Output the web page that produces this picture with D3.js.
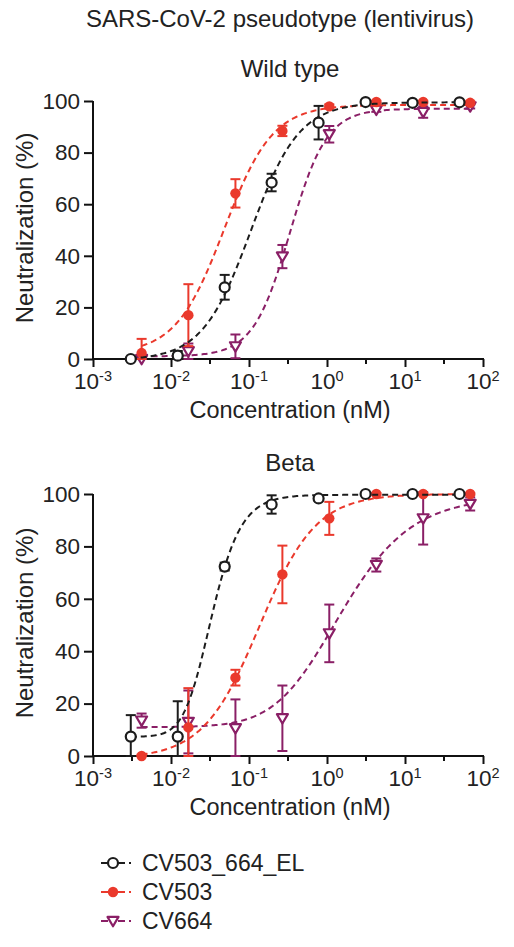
<!DOCTYPE html>
<html>
<head>
<meta charset="utf-8">
<title>SARS-CoV-2 pseudotype neutralization</title>
<script src="https://d3js.org/d3.v7.min.js"></script>
<style>
  body { margin: 0; background: #fff; }
  svg { display: block; font-family: "Liberation Sans", Arial, sans-serif; }
  .axis path, .axis line { stroke: #111; stroke-width: 2; }
  .axis text { font-size: 22.5px; fill: #222; }
</style>
</head>
<body>
<div id="chart"></div>
<script>
// ******* Data *******
const seriesNames = ["CV503_664_EL", "CV503", "CV664"];
const seriesColors = ["#1c1c1c", "#ea392c", "#8a1f66"];

// concentrations (nM)
const concEL = [0.00305, 0.0122, 0.0488, 0.195, 0.78, 3.125, 12.5, 50];
const concMono = [0.0042, 0.0167, 0.067, 0.268, 1.07, 4.29, 17.1, 68.5];

// Wild type: mean neutralization (%) and error
const wtEL = [0, 1.3, 27.8, 68.4, 91.6, 99.6, 99.3, 99.5];
const wtELErr = [0.5, 1.8, 4.8, 3.4, 6.5, 0.5, 0.8, 0.5];
const wt503 = [2.3, 17, 64.2, 88.4, 97.9, 99.6, 99.6, 99.3];
const wt503Err = [5.5, 12, 5.5, 2, 0.8, 0.5, 0.5, 0.6];
const wt664 = [0, 3, 4.9, 39.7, 87.1, 96.6, 95.7, 97.9];
const wt664Err = [0.8, 3, 4.6, 4.5, 3.2, 0.8, 2.2, 0.8];

// Beta: mean neutralization (%) and error
const betaEL = [7.4, 7.4, 72.3, 96, 98.3, 100, 100, 100];
const betaELErr = [8.2, 13.5, 1.5, 3.5, 0.8, 0.4, 0.4, 0.4];
const beta503 = [0, 10.9, 29.9, 69.3, 90.7, 100, 100, 100];
const beta503Err = [0.5, 15, 3, 11, 6.3, 0.4, 0.4, 0.4];
const beta664 = [13.5, 13, 10.6, 14.4, 46.8, 72.9, 90.7, 96.2];
const beta664Err = [2.7, 12, 11, 12.5, 11, 2.5, 10, 2.5];

// fitted logistic curves: [bottom, top, EC, hill, asymmetry]
const fitWT = [[-0.5, 99.5, 0.105, 1.4, 1], [2, 98.5, 0.048, 1.4, 1], [1, 97, 0.335, 1.84, 1]];
const fitBeta = [[7.3, 99.7, 0.0215, 2, 2], [-1, 100, 0.136, 1.2, 1], [11, 99, 0.542, 0.84, 2]];

const xTickPowers = [-3, -2, -1, 0, 1, 2];
const yTicks = [0, 20, 40, 60, 80, 100];

// ******* Layout *******
const width = 514, height = 947;
const left = 93, right = 483;
const panels = [
  {title: "Wild type", titleY: 77, yTop: 101, yBottom: 359,
   values: [wtEL, wt503, wt664], errs: [wtELErr, wt503Err, wt664Err], fits: fitWT},
  {title: "Beta", titleY: 471, yTop: 494, yBottom: 756,
   values: [betaEL, beta503, beta664], errs: [betaELErr, beta503Err, beta664Err], fits: fitBeta}
];
const concs = [concEL, concMono, concMono];
const drawOrder = [2, 1, 0];   // purple under red under black

const svg = d3.select("#chart").append("svg")
    .attr("width", width)
    .attr("height", height);

svg.append("text")
    .attr("x", 280).attr("y", 27)
    .attr("text-anchor", "middle")
    .attr("font-size", 24)
    .attr("fill", "#222")
    .text("SARS-CoV-2 pseudotype (lentivirus)");

const x = d3.scaleLog().domain([1e-3, 1e2]).range([left, right]);

function logistic(p, c) {
  return p[0] + (p[1] - p[0]) / Math.pow(1 + Math.pow(p[2] / c, p[3]), p[4]);
}

function drawMarker(g, i, cx, cy) {
  const col = seriesColors[i];
  if (i === 0) {
    g.append("circle").attr("cx", cx).attr("cy", cy).attr("r", 5)
      .attr("fill", "#fff").attr("stroke", col).attr("stroke-width", 2.2);
  } else if (i === 1) {
    g.append("circle").attr("cx", cx).attr("cy", cy).attr("r", 5.2)
      .attr("fill", col);
  } else {
    const s = 5.5;
    g.append("path")
      .attr("d", `M${cx - s},${cy - s * 0.75}L${cx + s},${cy - s * 0.75}L${cx},${cy + s * 0.95}Z`)
      .attr("fill", "#fff").attr("stroke", col).attr("stroke-width", 2.2)
      .attr("stroke-linejoin", "round");
  }
}

panels.forEach(function(p) {
  const y = d3.scaleLinear().domain([0, 100]).range([p.yBottom, p.yTop]);
  const g = svg.append("g");

  g.append("text")
    .attr("x", 290).attr("y", p.titleY)
    .attr("text-anchor", "middle")
    .attr("font-size", 24)
    .attr("fill", "#222")
    .text(p.title);

  // y axis
  g.append("g").attr("class", "axis")
    .attr("transform", `translate(${left},0)`)
    .call(d3.axisLeft(y).tickValues(yTicks).tickSize(9).tickSizeOuter(0).tickPadding(4))
    .call(a => a.select(".domain").attr("d", `M0,${p.yBottom + 1}V${p.yTop}`));

  // x axis: major ticks per decade, minor at half decades
  const xa = g.append("g").attr("class", "axis")
    .attr("transform", `translate(0,${p.yBottom})`)
    .call(d3.axisBottom(x)
      .tickValues(xTickPowers.map(e => Math.pow(10, e)))
      .tickSize(8).tickSizeOuter(0).tickFormat(""));
  xa.select(".domain").attr("d", `M${left - 1},0H${right + 1}`);
  xa.selectAll(".minor")
    .data(xTickPowers.slice(0, -1).map(e => Math.pow(10, e + 0.5)))
    .enter().append("line")
    .attr("x1", d => x(d)).attr("x2", d => x(d))
    .attr("y1", 0).attr("y2", 5);

  const lab = xa.selectAll(".lab")
    .data(xTickPowers)
    .enter().append("text")
    .attr("x", e => x(Math.pow(10, e)))
    .attr("y", 30)
    .attr("text-anchor", "middle")
    .attr("fill", "#222")
    .attr("font-size", 22);
  lab.append("tspan").text("10");
  lab.append("tspan").attr("dy", -8).attr("font-size", 14.5).text(e => e < 0 ? "-" + (-e) : e);

  g.append("text")
    .attr("x", 290).attr("y", p.yBottom + 59)
    .attr("text-anchor", "middle")
    .attr("font-size", 23.5)
    .attr("fill", "#222")
    .text("Concentration (nM)");

  g.append("text")
    .attr("transform", `translate(33,${(p.yTop + p.yBottom) / 2 - 2}) rotate(-90)`)
    .attr("text-anchor", "middle")
    .attr("font-size", 24)
    .attr("fill", "#222")
    .text("Neutralization (%)");

  // series
  drawOrder.forEach(function(i) {
    const col = seriesColors[i];
    const c = concs[i];
    const sg = g.append("g");

    const lo = Math.log10(c[0]), hi = Math.log10(c[c.length - 1]);
    const curve = d3.range(0, 201).map(k => Math.pow(10, lo + (hi - lo) * k / 200));
    sg.append("path")
      .datum(curve)
      .attr("fill", "none")
      .attr("stroke", col)
      .attr("stroke-width", 2)
      .attr("stroke-dasharray", "6,4")
      .attr("d", d3.line().x(d => x(d)).y(d => y(logistic(p.fits[i], d))));

    p.values[i].forEach(function(v, j) {
      const e = p.errs[i][j];
      const cx = x(c[j]);
      const y1 = y(Math.max(0, v - e)), y2 = y(v + e);
      sg.append("line").attr("x1", cx).attr("x2", cx).attr("y1", y1).attr("y2", y2)
        .attr("stroke", col).attr("stroke-width", 2);
      [y1, y2].forEach(yy => sg.append("line")
        .attr("x1", cx - 5).attr("x2", cx + 5).attr("y1", yy).attr("y2", yy)
        .attr("stroke", col).attr("stroke-width", 2));
      drawMarker(sg, i, cx, y(v));
    });
  });
});

// ******* Legend *******
const legend = svg.append("g");
seriesNames.forEach(function(name, i) {
  const ly = 863 + i * 29;
  legend.append("line")
    .attr("x1", 101).attr("x2", 132).attr("y1", ly).attr("y2", ly)
    .attr("stroke", seriesColors[i]).attr("stroke-width", 2)
    .attr("stroke-dasharray", "7,4,2,4");
  drawMarker(legend, i, 113, ly);
  legend.append("text")
    .attr("x", 142).attr("y", ly + 8)
    .attr("font-size", 23)
    .attr("fill", "#222")
    .text(name);
});
</script>
</body>
</html>
